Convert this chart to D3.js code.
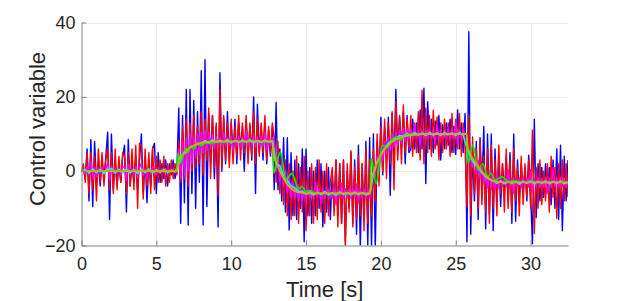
<!DOCTYPE html>
<html>
<head>
<meta charset="utf-8">
<script src="https://cdn.jsdelivr.net/npm/d3@7"></script>
<style>
  html, body { margin: 0; padding: 0; background: #fff; }
  svg { display: block; }
  text { font-family: "Liberation Sans", Arial, Helvetica, sans-serif; fill: #262626; }
</style>
</head>
<body>
<svg id="chart" width="623" height="301"></svg>
<script>
// ---- data ----
const sampleTime = 0.125; // s, sample spacing of the noisy signals
const xTicks = [0, 5, 10, 15, 20, 25, 30];
const yTicks = [-20, 0, 20, 40];
const xLabel = "Time [s]";
const yLabel = "Control variable";

const blueSignal = [
0,1,-2,6,-8,8.5,-9.5,8,-3,2,
-4,3,-2,4,10.5,-13,10,-5,3,-4,
2,-3,4,7,-11,8.5,-4,2,-3,4,
-5,3,10,-6,4,-8.5,3,-4,6,7.5,
-6,5,-3,2,-2,3,-4,2,-1,3,
-2,1,
17,-14,15,-8.5,22,-14.5,22,-6,19,-10,
16,-3,27,-14.5,30,-9.5,15.5,2,15,-2,
12,-15,26.5,0,14,2,16,3,13,4,
14,2,13,6,12,0,14,4,12,3,
20,-6,18,5,12,3,13,2,11,4,12,
-5,18.5,-5,6,-8,9,-11,9,-15.8,5,
-12,3,-13,2,-10,6,-19,6,-12,1,
-14,0,-12,3,-10,2,-15,0,-11,1,
-13,-1,-9,3,-12,2,-14,3,-19,0,
-10,5,-14,3,-17,7,-20.5,2,-13,8,-20,9,
-20.5,10,-21,8,-2,14.5,-1,12,3,14.5,
-6.5,15.5,2,22,5,14.5,6,16,2,15,
5,6,14,6,13,5,16.5,6,22.3,-3.3,
18.7,6,14,5,13.5,7,15,3,12.5,6,
13,7,14,5,12,4.5,16.5,6,13,5,15.5,
-19,37.5,-17,5,-8,8,-13,9,-4,12,
-15.5,10,-11.5,10,-16,6,-8,4,-9.5,2,
-6,4,-8,5,-14,10,-13.5,3,-7,2,
-6,1,-8,4.3,-6,-19.5,14,-12.5,2,-8,
1,-7,2,-6,1,-9,3,-10,6,-13,
7,-16,4,-8,3];

const redSignal = [
0,2,-3,5,-6,5,-5,4,-8,6,
-3,5,-4,3,6,-5,5,-6,6,-5,
4,-3,5,4,-6,5,-4,6,-5,7,
-10,7.5,7,-7.5,6,-4,5,-6,6.5,-5,
4,-3,3,-3,4,-4,2,-3,3,-2,
2,-1,
8,-3,12,-2,14,-4,13,0,15,1,
12,2,16,-1,14,3,17,-2,15,1,
13,-6.5,22,1,15,3,13,1,14,2,
12,4,15,3,13,5,15,2,13,4,
16,2,14,4,13,5,15,3,12,5,13,
9,-3,8,-6,4,-9,3,-12,2,-13,
0,-12,4,-14,1,-11,4,-16,0,-12,
2,-14,1,-13,3,-11,0,-14,2,-12,
-3,1,-12,3,-15,2,-14,3,-20.5,2,
-11,5.5,-15,1,-13,4,-12,2,-16,6,-14,3,
-12,6,-8,10,-4,12,0,14,-2,13,
2,16,-5,18.7,3,15,2,17.8,5,14,
6,15,4,13,5,16,3,21.8,2,17,
5,15,4,16.4,6,14.6,3,13,5,14,
6,13,4,15.5,5,14,6,15.5,4,13,6,
-9.6,15,-12,9.2,-6,6,-10,8,-9,4,
-11,6,-14,7,-10,3,-12,7,-6,2,
-11,6,-10,3,-11,6,-8,1,-12,4,
-9,2,-7,3,-10,11,-16.8,1,-10,3,
-9,0,-8,2,-11,4,-7,1,-12.7,2,
-10,3,-8,2,-7];

const magentaSignal = [
0,0.5,-0.8,1.2,-1,2.5,-2,1,-1.5,0.8,
-0.6,1,-0.8,0.5,2.5,-2.5,1.2,-0.7,0.8,-0.5,
0.6,-0.9,1.2,1,-2.5,2,-0.8,0.6,-0.8,1.2,
-1.8,0.8,2.2,-1.2,0.6,-2,0.6,-0.8,1,0.8,
-1,0.8,-0.6,0.5,-0.5,0.7,-0.8,0.5,-0.3,0.5,
-0.5,0.2,
6,-2,8,-1,9,0,10,2,9.5,3.5,
10,4.5,10.5,5,11,5.5,10.5,6,10,6,
9.3,6.7,9,7,10.5,6.8,9.2,7,9.4,5.5,
9,6.8,9.5,6.5,9.2,7,11,6.8,9,7,
9.4,6.6,9.2,7,9.5,6.8,10.5,5.8,9.2,6.9,9,
8,0,4,-3,2,-4,0,-6,-2,-7,
-3,-7.5,-3.5,-8,-4,-8,-4.5,-7.5,-4.8,-7.2,
-4.7,-7.3,-3,-7,-4.8,-8.8,-4.6,-7.2,-4.8,-7,
-4.9,-7.4,-4.5,-9,-4.8,-7.2,-3.2,-7.3,-4.7,-7.1,
-4.8,-7.3,-4.6,-7.2,-3.5,-8.5,-4.8,-7.2,-4.7,-7.4,-4.8,-7.2,
-4,1,-1,4,1.5,6,3,8,4.5,9,
5.5,10,6.5,10.5,7,11,7.5,11.5,8,11.5,
8.8,11.2,8.6,12.5,8.8,11,7,11.2,8.8,11,
8.7,11.3,8.8,11.2,7.5,12.5,8.8,11.2,8.7,11,
8.8,11.3,8.6,11.2,8.8,13,7.5,11.2,8.8,11.3,8.8,
8,3,6,1,4,-1,3,-2,1.5,-3.5,
0.5,-4.5,-0.5,-5,-0.5,-5,-1,-4.5,-1.5,-4.2,
-1.8,-4.3,0.5,-4.2,-1.8,-6,-1.7,-4.2,-1.8,-4.4,
-1.6,-4.2,-1.8,-4.3,0.5,-6,-1.8,-4.2,-1.7,-4.3,
-1.8,-4.2,-1.6,-6,-1.8,-4.3,1,-4.2,-1.8,-4.4,
-1.7,-4.2,-1.8,-4.3,-3];

const cyanSampleTime = 0.25;
const cyanSignal = [
0,0.5,-0.5,0.6,-0.4,0.5,-0.6,0.4,0.7,-0.5,
0.5,-0.4,0.6,-0.5,0.4,-0.6,0.5,-0.4,0.6,-0.5,
0.4,-0.3,0.5,-0.4,0.3,-0.2,
2,4.5,5,6.5,6.8,7.5,7.4,8.2,7.6,8.4,
7.7,8.3,7.8,8.5,7.6,8.3,7.7,8.4,7.8,8.5,
7.6,8.3,7.7,8.4,7.8,
8.2,2,1.5,-1.5,-2.5,-4,-4.5,-5.5,-5.4,-6.2,
-5.6,-6.4,-5.7,-6.3,-5.5,-6.4,-5.8,-6.5,-5.6,-6.3,
-5.7,-6.4,-5.6,-6.3,-5.7,-6.4,
-6,-1,2.5,4.5,6.2,7.5,8.4,8.8,9.6,9.4,
10.2,9.6,10.4,9.7,10.3,9.6,10.4,9.7,10.3,9.6,
10.4,9.8,10.3,9.6,10.4,9.7,
6,3.5,2,1,-0.5,-1.5,-2.2,-2.5,-3.3,-2.6,
-3.4,-2.7,-3.3,-2.6,-3.5,-2.7,-3.3,-2.6,-3.4,-2.7,
-3.3,-2.6,-3.4,-2.7,-3.3,-2.6,-3.4,-3];

const greenTime = [0,6.35,6.45,6.6,6.75,6.95,7.1,7.3,7.5,7.75,
8.0,8.3,8.6,9.0,9.5,10,12.75,12.85,13.0,13.3,
13.65,14.05,14.5,14.75,15.0,15.3,15.6,16,16.5,19.28,
19.36,19.68,20.1,20.35,20.95,21.3,21.7,22.1,22.6,25.72,
25.82,26.15,26.5,26.8,27.15,27.35,27.65,28.1,28.5,28.9,
29.4,32.5];
const greenValue = [0,0,4.8,2.2,3.5,6.2,5.0,6.8,6.0,7.3,
6.9,7.6,7.4,7.9,7.8,8,8,-0.5,1.5,5.2,
-2.4,-0.6,-4.7,-4.2,-5.6,-5.2,-6.0,-5.8,-6,-6,
3.4,-3.3,7,6.2,9.2,8.4,9.8,9.6,10,10,
2.1,7,0.3,2,-1.5,-0.6,-2.4,-1.5,-2.9,-2.6,
-3,-3];

const yellowTime = [0,6.4,6.5,6.75,7.0,7.5,8.0,8.5,9.0,12.75,
12.85,13.0,13.25,13.5,13.75,14.0,14.25,14.5,14.75,15.0,
15.25,19.28,19.38,19.5,19.75,20.0,20.5,21.0,21.5,22.0,
22.5,23.0,25.72,25.8,26.0,26.25,26.5,26.75,27.0,27.25,
27.5,27.75,28.0,28.25,32.5];
const yellowValue = [0,0,3,4.5,5.5,6.9,7.6,7.9,8,8,
4,2.5,0,-1.8,-3.6,-4.6,-5.3,-5.65,-5.85,-5.95,
-6,-6,-2,-0.5,2.3,4.4,7.1,8.5,9.3,9.72,
9.9,10,10,6.5,4.3,2.6,1.3,-0.1,-1.2,-2.1,
-2.6,-2.85,-2.95,-3,-3];

// ---- drawing ----
const svg = d3.select("#chart");
const L = 81.5, R = 568, T = 22.5, B = 245.5;
const x = d3.scaleLinear().domain([0, 32.5]).range([L, R]);
const y = d3.scaleLinear().domain([-20, 40]).range([B, T]);

// grid
const grid = svg.append("g");
grid.selectAll(".gx").data(xTicks.filter(d => d !== 0)).enter().append("line")
  .attr("x1", d => Math.round(x(d)) + 0.5).attr("x2", d => Math.round(x(d)) + 0.5)
  .attr("y1", T).attr("y2", B).attr("stroke", "#ebebeb").attr("stroke-width", 1);
grid.selectAll(".gy").data(yTicks.filter(d => d !== -20)).enter().append("line")
  .attr("y1", d => Math.round(y(d)) + 0.5).attr("y2", d => Math.round(y(d)) + 0.5)
  .attr("x1", L).attr("x2", R).attr("stroke", "#ebebeb").attr("stroke-width", 1);

svg.append("defs").append("clipPath").attr("id", "clip")
  .append("rect").attr("x", L).attr("y", T).attr("width", R - L).attr("height", B - T);

const plot = svg.append("g").attr("clip-path", "url(#clip)");

function sampled(values, dt) { return values.map((v, i) => [i * dt, v]); }
function paired(ts, vs) { return ts.map((t, i) => [t, vs[i]]); }

const lin = d3.line().x(d => x(d[0])).y(d => y(d[1]));
const smooth = d3.line().x(d => x(d[0])).y(d => y(d[1])).curve(d3.curveMonotoneX);

const series = [
  { data: sampled(blueSignal, sampleTime), color: "#0000ff", w: 1.4, gen: lin },
  { data: sampled(redSignal, sampleTime), color: "#ff0000", w: 1.4, gen: lin },
  { data: sampled(magentaSignal, sampleTime), color: "#ff00ff", w: 1.3, gen: lin },
  { data: sampled(cyanSignal, cyanSampleTime), color: "#00ffff", w: 1.6, gen: lin },
  { data: paired(greenTime, greenValue), color: "#00ee00", w: 1.6, gen: smooth },
  { data: paired(yellowTime, yellowValue), color: "#c8b400", w: 1.8, gen: smooth }
];
series.forEach(s => {
  plot.append("path").attr("d", s.gen(s.data)).attr("fill", "none")
    .attr("stroke", s.color).attr("stroke-width", s.w).attr("stroke-linejoin", "round");
});

// axes
const axisColor = "#808080";
const xAxis = svg.append("g").attr("transform", `translate(0,${B})`)
  .call(d3.axisBottom(x).tickValues(xTicks).tickFormat(d3.format("d"))
    .tickSizeInner(-5).tickSizeOuter(0).tickPadding(12));
const yAxis = svg.append("g").attr("transform", `translate(${L},0)`)
  .call(d3.axisLeft(y).tickValues(yTicks).tickFormat(d3.format("d"))
    .tickSizeInner(-5).tickSizeOuter(0).tickPadding(6));
[xAxis, yAxis].forEach(g => {
  g.select(".domain").attr("stroke", axisColor);
  g.selectAll(".tick line").attr("stroke", axisColor);
  g.selectAll(".tick text").attr("fill", "#262626").style("font-size", "18px")
    .style("font-family", "'Liberation Sans', Arial, Helvetica, sans-serif");
});

svg.append("text").attr("x", (L + R) / 2).attr("y", 297).attr("text-anchor", "middle")
  .style("font-size", "22px").text(xLabel);
svg.append("text").attr("transform", `translate(45,${(T + B) / 2 - 5}) rotate(-90)`)
  .attr("text-anchor", "middle").style("font-size", "22px").text(yLabel);
</script>
</body>
</html>
